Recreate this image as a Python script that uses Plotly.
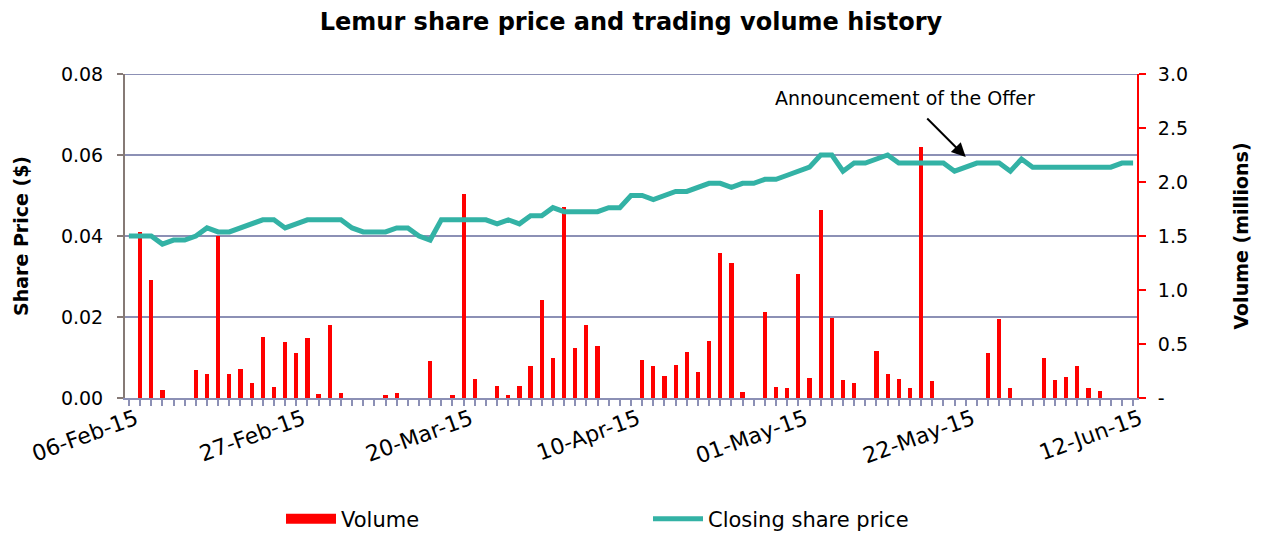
import pandas as pd
import plotly.graph_objects as go

# ---- data ----
dates = pd.bdate_range("2015-02-06", "2015-06-12")
date_labels = [d.strftime("%d-%b-%y") for d in dates]
idx = list(range(len(dates)))

# Closing share price ($)
price = [
    0.040, 0.040, 0.040, 0.038, 0.039, 0.039, 0.040, 0.042, 0.041, 0.041,
    0.042, 0.043, 0.044, 0.044, 0.042, 0.043, 0.044, 0.044, 0.044, 0.044,
    0.042, 0.041, 0.041, 0.041, 0.042, 0.042, 0.040, 0.039, 0.044, 0.044,
    0.044, 0.044, 0.044, 0.043, 0.044, 0.043, 0.045, 0.045, 0.047, 0.046,
    0.046, 0.046, 0.046, 0.047, 0.047, 0.050, 0.050, 0.049, 0.050, 0.051,
    0.051, 0.052, 0.053, 0.053, 0.052, 0.053, 0.053, 0.054, 0.054, 0.055,
    0.056, 0.057, 0.060, 0.060, 0.056, 0.058, 0.058, 0.059, 0.060, 0.058,
    0.058, 0.058, 0.058, 0.058, 0.056, 0.057, 0.058, 0.058, 0.058, 0.056,
    0.059, 0.057, 0.057, 0.057, 0.057, 0.057, 0.057, 0.057, 0.057, 0.058,
    0.058,
]

# Trading volume (millions)
volume = [
    0.000, 1.540, 1.090, 0.070, 0.000, 0.000, 0.260, 0.220, 1.500, 0.220,
    0.265, 0.135, 0.565, 0.105, 0.520, 0.420, 0.560, 0.040, 0.680, 0.043,
    0.000, 0.000, 0.000, 0.030, 0.043, 0.000, 0.000, 0.340, 0.000, 0.030,
    1.890, 0.176, 0.000, 0.114, 0.025, 0.111, 0.300, 0.907, 0.373, 1.770,
    0.463, 0.679, 0.478, 0.000, 0.000, 0.000, 0.355, 0.300, 0.200, 0.309,
    0.423, 0.238, 0.531, 1.343, 1.253, 0.052, 0.000, 0.796, 0.105, 0.096,
    1.148, 0.188, 1.744, 0.744, 0.170, 0.142, 0.000, 0.435, 0.222, 0.176,
    0.096, 2.321, 0.160, 0.000, 0.000, 0.000, 0.000, 0.420, 0.735, 0.096,
    0.000, 0.000, 0.370, 0.170, 0.198, 0.296, 0.096, 0.068, 0.000, 0.000,
    0.000,
]

label_idx = list(range(0, len(dates), 15))
label_text = [date_labels[i] for i in label_idx]

vol_ticks = [0, 0.5, 1.0, 1.5, 2.0, 2.5, 3.0]
vol_ticktext = ["-", "0.5", "1.0", "1.5", "2.0", "2.5", "3.0"]

price_max = 0.08
announce_idx = 75
announce_price = 0.0595

FONT = "DejaVu Sans"
GRID = "#8C90B5"
RED = "#FF0000"
TEAL = "#33B2A5"

# figure is drawn inside the page's default 8px body margin
W, H = 1246, 525

fig = go.Figure()
fig.add_trace(go.Bar(
    x=idx, y=volume, name="Volume", yaxis="y", legendgroup="vol", showlegend=False,
    marker=dict(color=RED, line=dict(width=0)), width=0.38,
    customdata=date_labels, hovertemplate="%{customdata}<br>%{y:.3f}m<extra></extra>",
))
# legend entry for volume (wide red block as in the original legend)
fig.add_trace(go.Scatter(
    x=[None], y=[None], name="Volume", yaxis="y", legendgroup="vol", mode="lines",
    line=dict(color=RED, width=12), hoverinfo="skip",
))
fig.add_trace(go.Scatter(
    x=idx, y=price, name="Closing share price", yaxis="y2", mode="lines",
    line=dict(color=TEAL, width=5),
    customdata=date_labels, hovertemplate="%{customdata}<br>$%{y:.3f}<extra></extra>",
))

fig.update_layout(
    width=W, height=H,
    margin=dict(l=117, r=117, t=66, b=135),
    paper_bgcolor="white", plot_bgcolor="white",
    font=dict(family=FONT, size=19, color="black"),
    title=dict(text="<b>Lemur share price and trading volume history</b>",
               x=0.5, xanchor="center", y=1 - 14 / H, yanchor="middle",
               font=dict(family=FONT, size=24, color="black")),
    bargap=0,
    xaxis=dict(
        range=[-0.35, 90.35], tickmode="array", tickvals=label_idx, ticktext=label_text,
        tickangle=-20, ticks="outside", ticklen=6, tickwidth=1.5, tickcolor=GRID,
        minor=dict(tickmode="linear", tick0=0, dtick=1, ticks="outside",
                   ticklen=6, tickwidth=1.5, tickcolor=GRID),
        showline=True, linecolor=GRID, linewidth=2, showgrid=False, zeroline=False,
        tickfont=dict(size=22), ticklabelshift=7, ticklabelstandoff=-8, automargin=False,
    ),
    yaxis=dict(
        side="right", range=[0, 3], tickmode="array", tickvals=vol_ticks, ticktext=vol_ticktext,
        showline=True, linecolor=RED, linewidth=2, ticks="outside", ticklen=7,
        tickwidth=2, tickcolor=RED, showgrid=False, zeroline=False, automargin=False,
        ticklabelstandoff=8,
        title=dict(text="<b>Volume (millions)</b>", font=dict(size=19), standoff=48),
    ),
    yaxis2=dict(
        side="left", overlaying="y", range=[0, price_max], tickmode="linear", tick0=0, dtick=0.02,
        tickformat=".2f", showgrid=True, gridcolor=GRID, gridwidth=2,
        showline=True, linecolor="#867A76", linewidth=2, ticks="outside", ticklen=6,
        tickwidth=2, tickcolor="#867A76", zeroline=False, automargin=False,
        ticklabelstandoff=10,
        title=dict(text="<b>Share Price ($)</b>", font=dict(size=19), standoff=27),
    ),
    legend=dict(orientation="h", xref="container", yref="container",
                x=273 / W, xanchor="left", y=1 - 511 / H, yanchor="middle",
                entrywidth=302, entrywidthmode="pixels", itemwidth=50,
                font=dict(size=21), traceorder="normal", bgcolor="rgba(0,0,0,0)"),
    showlegend=True,
)

# top gridline at the axis maximum
fig.add_shape(type="line", xref="paper", yref="y2", x0=0, x1=1, y0=price_max, y1=price_max,
              line=dict(color=GRID, width=2), layer="below")

fig.add_annotation(
    x=announce_idx, y=announce_price, xref="x", yref="y2",
    ax=-40, ay=-40, axref="pixel", ayref="pixel",
    showarrow=True, arrowhead=2, arrowsize=1.4, arrowwidth=2, arrowcolor="black",
    text="",
)
fig.add_annotation(
    x=69.6, y=0.0741, xref="x", yref="y2", showarrow=False,
    text="Announcement of the Offer", font=dict(size=19, color="black"),
    xanchor="center", yanchor="middle",
)

fig.write_html("out.html")
